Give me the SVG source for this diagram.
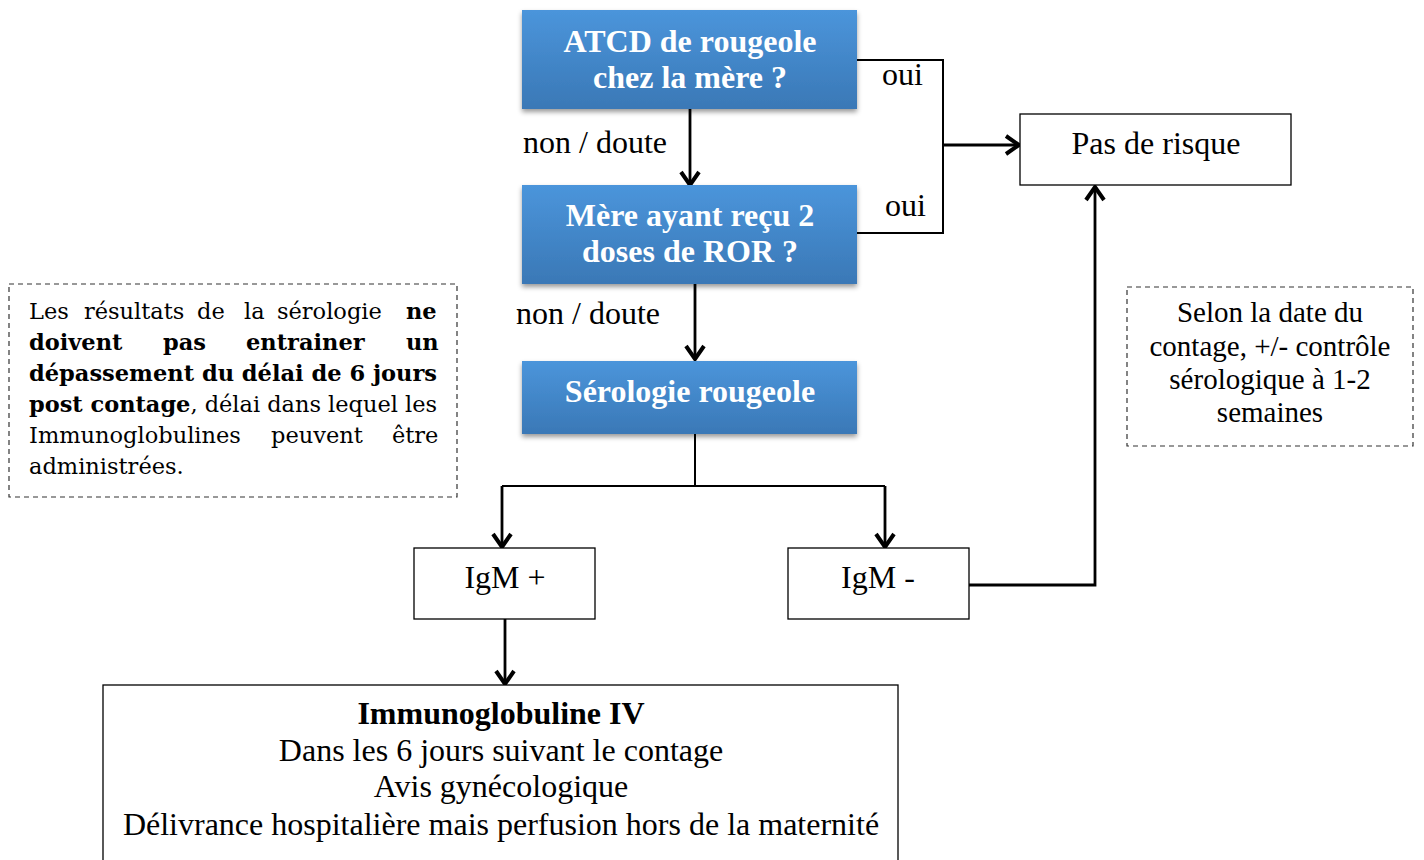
<svg xmlns="http://www.w3.org/2000/svg" width="1424" height="860" viewBox="0 0 1424 860">
<defs>
<linearGradient id="blue" x1="0" y1="0" x2="0" y2="1">
<stop offset="0" stop-color="#4B95DB"/>
<stop offset="1" stop-color="#3A78B6"/>
</linearGradient>
<filter id="sh" x="-5%" y="-10%" width="110%" height="130%">
<feDropShadow dx="0" dy="3" stdDeviation="2.5" flood-color="#000" flood-opacity="0.4"/>
</filter>
<marker id="arr" markerWidth="22" markerHeight="22" viewBox="0 0 22 22" refX="18" refY="11" orient="auto" markerUnits="userSpaceOnUse">
<path d="M5,2 L18,11 L5,20" fill="none" stroke="#000" stroke-width="4"/>
</marker>
<style>
.blue{fill:url(#blue);filter:url(#sh);}
.bt{font-family:"Liberation Serif","Times New Roman",serif;font-weight:bold;font-size:32px;fill:#fff;text-anchor:middle;}
.t{font-family:"Liberation Serif","Times New Roman",serif;font-size:32px;fill:#000;}
.c{text-anchor:middle;}
.box{fill:#fff;stroke:#000;stroke-width:1.3;}
.dash{fill:#fff;stroke:#333;stroke-width:1.2;stroke-dasharray:5,4;}
.n{font-family:"DejaVu Serif",serif;font-size:22.5px;fill:#000;}
.nb{font-weight:bold;}
.st{font-family:"Liberation Serif","Times New Roman",serif;font-size:29px;fill:#000;text-anchor:middle;}
.ln{fill:none;stroke:#000;stroke-width:2;}
.ar{fill:none;stroke:#000;stroke-width:2.8;marker-end:url(#arr);}
</style>
</defs>
<g id="connectors">
<path class="ar" d="M690,109 L690,185"/>
<path class="ar" d="M695,284 L695,359"/>
<path class="ln" d="M857,60 L943,60 L943,233 L857,233"/>
<path class="ar" d="M943,145 L1019,145"/>
<path class="ln" d="M695,434 L695,486"/>
<path class="ln" d="M502,486 L885,486"/>
<path class="ar" d="M502,486 L502,547"/>
<path class="ar" d="M885,486 L885,547"/>
<path class="ar" d="M505,619 L505,684"/>
<path class="ar" d="M969,585 L1095,585 L1095,187"/>
<text class="t" x="882" y="85">oui</text>
<text class="t" x="885" y="216">oui</text>
<text class="t" x="523" y="153">non / doute</text>
<text class="t" x="516" y="324">non / doute</text>
</g>
<g id="n1">
<rect class="blue" x="522" y="10" width="335" height="99"/>
<text class="bt" x="690" y="52">ATCD de rougeole</text>
<text class="bt" x="690" y="88">chez la mère ?</text>
</g>
<g id="n2">
<rect class="blue" x="522" y="185" width="335" height="99"/>
<text class="bt" x="690" y="226">Mère ayant reçu 2</text>
<text class="bt" x="690" y="262">doses de ROR ?</text>
</g>
<g id="n3">
<rect class="blue" x="522" y="361" width="335" height="73"/>
<text class="bt" x="690" y="402">Sérologie rougeole</text>
</g>
<g id="n4">
<rect class="box" x="1020" y="114" width="271" height="71"/>
<text class="t c" x="1156" y="154">Pas de risque</text>
</g>
<g id="n5">
<rect class="box" x="414" y="548" width="181" height="71"/>
<text class="t c" x="505" y="588">IgM +</text>
</g>
<g id="n6">
<rect class="box" x="788" y="548" width="181" height="71"/>
<text class="t c" x="878" y="588">IgM -</text>
</g>
<g id="n7">
<rect class="box" x="103" y="685" width="795" height="200"/>
<text class="t c" x="501" y="724" font-weight="bold">Immunoglobuline IV</text>
<text class="t c" x="501" y="761">Dans les 6 jours suivant le contage</text>
<text class="t c" x="501" y="797">Avis gynécologique</text>
<text class="t c" x="501" y="835">Délivrance hospitalière mais perfusion hors de la maternité</text>
</g>
<g id="note-left">
<rect class="dash" x="9" y="284" width="448" height="213"/>
<text class="n" y="319"><tspan x="29">Les</tspan><tspan x="84">résultats</tspan><tspan x="197">de</tspan><tspan x="244">la</tspan><tspan x="277">sérologie</tspan><tspan x="406" class="nb">ne</tspan></text>
<text class="n nb" y="350"><tspan x="29">doivent</tspan><tspan x="163">pas</tspan><tspan x="246">entrainer</tspan><tspan x="406">un</tspan></text>
<text class="n nb" x="29" y="381" textLength="408" lengthAdjust="spacingAndGlyphs">dépassement du délai de 6 jours</text>
<text class="n" x="29" y="412" textLength="408" lengthAdjust="spacingAndGlyphs"><tspan class="nb">post contage</tspan>, délai dans lequel les</text>
<text class="n" y="443"><tspan x="29">Immunoglobulines</tspan><tspan x="271">peuvent</tspan><tspan x="392">être</tspan></text>
<text class="n" x="29" y="474">administrées.</text>
</g>
<g id="note-right">
<rect class="dash" x="1127" y="287" width="286" height="159"/>
<text class="st" x="1270" y="322">Selon la date du</text>
<text class="st" x="1270" y="356">contage, +/- contrôle</text>
<text class="st" x="1270" y="389">sérologique à 1-2</text>
<text class="st" x="1270" y="422">semaines</text>
</g>
</svg>
